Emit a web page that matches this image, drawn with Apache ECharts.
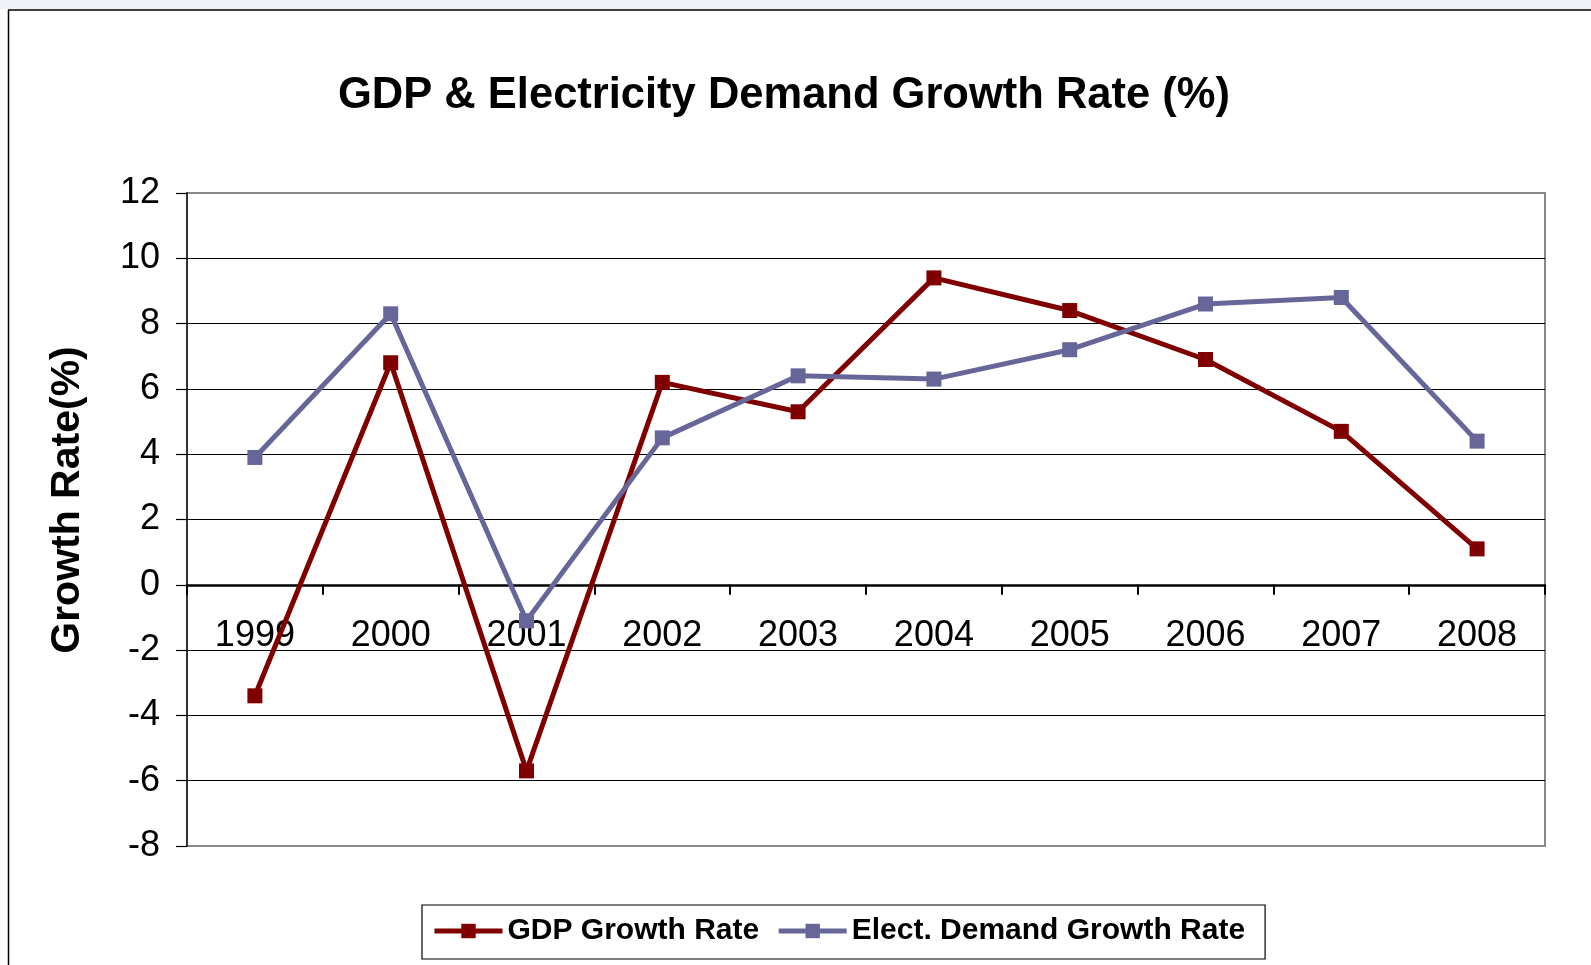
<!DOCTYPE html>
<html>
<head>
<meta charset="utf-8">
<script src="https://cdn.jsdelivr.net/npm/echarts@6/dist/echarts.min.js"></script>
<style>
html,body{margin:0;padding:0;background:#fff;}
#chart{width:1591px;height:965px;}
</style>
</head>
<body>
<div id="chart"></div>
<script>
const years = ['1999','2000','2001','2002','2003','2004','2005','2006','2007','2008'];
const gdpGrowth = [-3.4, 6.8, -5.7, 6.2, 5.3, 9.4, 8.4, 6.9, 4.7, 1.1];
const electGrowth = [3.9, 8.3, -1.1, 4.5, 6.4, 6.3, 7.2, 8.6, 8.8, 4.4];
const yMin = -8, yMax = 12, yStep = 2;
const titleText = 'GDP & Electricity Demand Growth Rate (%)';
const yAxisTitle = 'Growth Rate(%)';
const seriesNames = ['GDP Growth Rate', 'Elect. Demand Growth Rate'];

const FONT = 'Arial, "Liberation Sans", sans-serif';
const GRID = {left: 187, right: 46, top: 193, bottom: 119};
const gridH = 965 - GRID.top - GRID.bottom;
// distance from the grid bottom edge up to the zero line (labels sit under the zero line)
const zeroLift = gridH * (0 - yMin) / (yMax - yMin);

const nLines = (yMax - yMin) / yStep + 1;
const splitColors = [];
for (let i = 0; i < nLines; i++) splitColors.push(i === 0 || i === nLines - 1 ? '#888888' : '#000000');

const chart = echarts.init(document.getElementById('chart'), null, {renderer: 'canvas'});
chart.setOption({
  backgroundColor: '#ffffff',
  animation: false,
  title: {
    text: titleText,
    left: 333,
    top: 69,
    textStyle: {fontFamily: FONT, fontSize: 43.5, fontWeight: 'bold', color: '#000'}
  },
  graphic: [
    {type: 'rect', shape: {x: 0, y: 0, width: 1591, height: 9}, style: {fill: '#eef2f8'}, silent: true},
    {type: 'line', shape: {x1: 8.5, y1: 10, x2: 8.5, y2: 965}, style: {stroke: '#000', lineWidth: 1.5}, silent: true},
    {type: 'line', shape: {x1: 8, y1: 10, x2: 1591, y2: 10}, style: {stroke: '#000', lineWidth: 1.5}, silent: true},
    {type: 'text', x: 68, y: 500, rotation: Math.PI / 2,
      style: {text: yAxisTitle, fontFamily: FONT, fontSize: 41, fontWeight: 'bold', fill: '#000',
        align: 'center', verticalAlign: 'middle'}, silent: true}
  ],
  legend: {
    data: seriesNames,
    left: 422,
    top: 905,
    orient: 'horizontal',
    padding: [11, 20, 13, 10],
    borderColor: '#000',
    borderWidth: 1.2,
    itemWidth: 68,
    itemHeight: 18,
    itemGap: 17,
    lineStyle: {width: 5},
    textStyle: {fontFamily: FONT, fontSize: 30, fontWeight: 'bold', color: '#000'}
  },
  grid: {
    left: GRID.left, right: GRID.right, top: GRID.top, bottom: GRID.bottom,
    show: true, borderColor: '#888888', borderWidth: 2, backgroundColor: '#fff'
  },
  xAxis: {
    type: 'category',
    data: years,
    boundaryGap: true,
    axisLine: {onZero: true, lineStyle: {color: '#000', width: 2.5}},
    axisTick: {show: true, alignWithLabel: false, length: 10, lineStyle: {color: '#000', width: 2}},
    axisLabel: {margin: 33 - zeroLift, fontFamily: FONT, fontSize: 36, color: '#000'},
    splitLine: {show: false}
  },
  yAxis: {
    type: 'value',
    min: yMin, max: yMax, interval: yStep,
    axisLine: {show: true, lineStyle: {color: '#333', width: 2}},
    axisTick: {show: true, length: 11, lineStyle: {color: '#000', width: 1.2}},
    axisLabel: {margin: 27, fontFamily: FONT, fontSize: 36, color: '#000'},
    splitLine: {show: true, lineStyle: {color: splitColors, width: 1.2}}
  },
  series: [
    {
      name: seriesNames[0], type: 'line', data: gdpGrowth,
      symbol: 'rect', symbolSize: 15,
      lineStyle: {color: '#800000', width: 5},
      itemStyle: {color: '#800000'}
    },
    {
      name: seriesNames[1], type: 'line', data: electGrowth,
      symbol: 'rect', symbolSize: 15,
      lineStyle: {color: '#666699', width: 5},
      itemStyle: {color: '#666699'}
    }
  ]
});
</script>
</body>
</html>
